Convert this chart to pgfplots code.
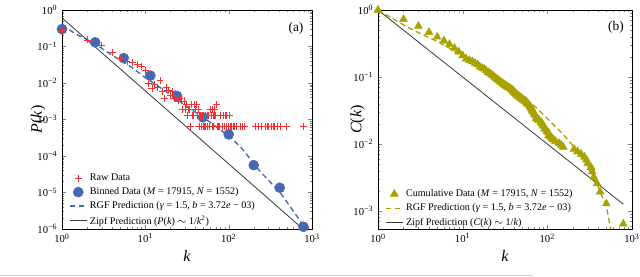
\documentclass[border=0pt]{standalone}
\usepackage{pgfplots}
\pgfplotsset{compat=1.18}
\usepackage{fontspec}
\setmainfont{Liberation Serif}
\definecolor{rawred}{RGB}{255,45,45}
\definecolor{binblue}{RGB}{70,104,178}
\definecolor{olivey}{RGB}{168,162,0}
\definecolor{zipfc}{RGB}{55,55,55}
\pgfplotsset{
  markimg/.style={legend image code/.code={\draw[##1] plot coordinates {(0.22cm,0cm)};}},
  lineimg/.style={legend image code/.code={\draw[##1] (0cm,0cm) -- (0.44cm,0cm);}},
}
\begin{document}
\begin{tikzpicture}
\useasboundingbox (0,0) rectangle (480pt,207pt);
\draw[gray!35, line width=0.6pt] (0,0.75pt) -- (400pt,0.75pt);
% ---------------- panel (a)
\begin{loglogaxis}[scale only axis, anchor=south west,
  height=164.25pt, xmin=1, xmax=1000, clip=false,
  xtick={1,10,100,1000},
  xticklabels={10\textsuperscript{0},10\textsuperscript{1},10\textsuperscript{2},10\textsuperscript{3}},
  minor xtick={2,3,4,5,6,7,8,9,20,30,40,50,60,70,80,90,200,300,400,500,600,700,800,900},
  tick align=inside, major tick length=3pt, minor tick length=1.6pt,
  axis line style={line width=0.6pt},
  tick label style={font=\fontsize{8}{9}\selectfont},
  label style={font=\fontsize{12}{13}\selectfont},
  xlabel style={at={(axis description cs:0.5,-0.123)}, anchor=center},
  legend style={draw=none, fill=none, font=\fontsize{7.6}{8.6}\selectfont, anchor=south west, row sep=-0.3pt, at={(axis description cs:0.012,-0.012)}},
  legend cell align=left,
  at={(46.5pt,35.25pt)}, width=187.5pt,
  ymin=1e-6, ymax=1,
  ytick={1e-6,1e-5,1e-4,1e-3,1e-2,1e-1,1},
  yticklabels={10\textsuperscript{−6},10\textsuperscript{−5},10\textsuperscript{−4},10\textsuperscript{−3},10\textsuperscript{−2},10\textsuperscript{−1},10\textsuperscript{0}},
  minor ytick={2e-6,3e-6,4e-6,5e-6,6e-6,7e-6,8e-6,9e-6,2e-5,3e-5,4e-5,5e-5,6e-5,7e-5,8e-5,9e-5,2e-4,3e-4,4e-4,5e-4,6e-4,7e-4,8e-4,9e-4,2e-3,3e-3,4e-3,5e-3,6e-3,7e-3,8e-3,9e-3,2e-2,3e-2,4e-2,5e-2,6e-2,7e-2,8e-2,9e-2,0.2,0.3,0.4,0.5,0.6,0.7,0.8,0.9},
  xlabel={\textit{k}}, ylabel={\textit{P}(\textit{k})},
  ylabel style={at={(axis description cs:-0.096,0.5)}, anchor=center}]
\addlegendimage{only marks, mark=+, rawred, mark size=2.6pt, mark options={line width=0.5pt}, markimg}
\addlegendentry{Raw Data}
\addlegendimage{only marks, mark=*, binblue, mark size=3.75pt, mark options={draw=binblue, fill=binblue}, markimg}
\addlegendentry{Binned Data (\textit{M} = 17915, \textit{N} = 1552)}
\addlegendimage{binblue, line width=1pt, dash pattern=on 4pt off 2.5pt, lineimg}
\addlegendentry{RGF Prediction (\textit{γ} = 1.5, \textit{b} = 3.72\textit{e} − 03)}
\addlegendimage{zipfc, line width=0.6pt, lineimg}
\addlegendentry{Zipf Prediction (\textit{P}(\textit{k}) $\sim$ 1/\textit{k}\textsuperscript{2})}
\addplot[forget plot, only marks, mark=*, mark size=3.75pt, mark options={draw=binblue, fill=binblue}] coordinates {
(1,0.30) (2.5,0.13) (5.5,0.048) (11.5,0.016) (24,0.0044) (49,0.00115) (100,0.00039) (200,0.000056) (410,0.0000135) (790,0.00000115)};
\addplot[forget plot, only marks, mark=+, mark size=2.6pt, rawred, mark options={line width=0.5pt}] table {
k P
1 0.27384
2 0.15142
3 0.11018
4 0.06830
5 0.04832
6 0.03995
7 0.03737
8 0.03286
9 0.02899
10 0.02191
11 0.009665
12 0.007088
13 0.009021
14 0.007732
15 0.011598
16 0.005799
17 0.003866
18 0.007732
19 0.006443
20 0.004510
21 0.005799
22 0.003866
23 0.005155
24 0.003866
25 0.003222
26 0.003866
27 0.003222
28 0.001933
29 0.003222
30 0.001933
31 0.002577
32 0.001289
33 0.001933
34 0.001933
35 0.000644
36 0.002577
37 0.001289
38 0.001289
39 0.002577
40 0.001933
41 0.002577
42 0.001289
43 0.001933
44 0.000644
45 0.001289
46 0.001289
47 0.000644
48 0.001289
49 0.000644
50 0.001289
51 0.000644
52 0.001289
53 0.000644
55 0.001289
56 0.000644
57 0.001289
58 0.000644
59 0.000644
60 0.001933
62 0.001289
63 0.000644
64 0.001933
65 0.001289
66 0.000644
67 0.001289
68 0.001933
70 0.001289
72 0.002577
74 0.000644
76 0.000644
78 0.000644
80 0.001289
84 0.000644
86 0.001289
88 0.000644
90 0.001289
93 0.000644
95 0.001289
99 0.000644
103 0.001289
104 0.000644
108 0.000644
113 0.000644
118 0.000644
125 0.000644
137 0.000644
146 0.000644
154 0.000644
207 0.000644
227 0.000644
250 0.000644
274 0.000644
290 0.000644
300 0.000644
329 0.000644
340 0.000644
354 0.000644
388 0.000644
420 0.000644
498 0.000644
789 0.000644
};
\addplot[forget plot, binblue, line width=1pt, dash pattern=on 4pt off 2.5pt] coordinates {
(1,0.38) (1.5,0.215) (2.25,0.135) (4,0.058) (7,0.026) (10,0.0140) (13,0.0095) (19,0.0052) (33,0.0021) (63,0.00078) (109,0.00030) (143,0.000165) (238,0.000038) (414,0.0000100) (720,0.0000017) (800,0.0000011)};
\addplot[forget plot, zipfc, line width=0.6pt] coordinates {(1,0.608) (789,0.000000977)};
\node[font=\fontsize{10}{12}\selectfont] at (rel axis cs:0.936,0.918) {(a)};
\end{loglogaxis}
% ---------------- panel (b)
\begin{loglogaxis}[scale only axis, anchor=south west,
  height=164.25pt, xmin=1, xmax=1000, clip=false,
  xtick={1,10,100,1000},
  xticklabels={10\textsuperscript{0},10\textsuperscript{1},10\textsuperscript{2},10\textsuperscript{3}},
  minor xtick={2,3,4,5,6,7,8,9,20,30,40,50,60,70,80,90,200,300,400,500,600,700,800,900},
  tick align=inside, major tick length=3pt, minor tick length=1.6pt,
  axis line style={line width=0.6pt},
  tick label style={font=\fontsize{8}{9}\selectfont},
  label style={font=\fontsize{12}{13}\selectfont},
  xlabel style={at={(axis description cs:0.5,-0.123)}, anchor=center},
  legend style={draw=none, fill=none, font=\fontsize{7.6}{8.6}\selectfont, anchor=south west, row sep=0pt, at={(axis description cs:0.012,-0.018)}},
  legend cell align=left,
  at={(283.5pt,35.25pt)}, width=190.5pt,
  ymin=5.4e-4, ymax=1,
  ytick={1e-3,1e-2,1e-1,1},
  yticklabels={10\textsuperscript{−3},10\textsuperscript{−2},10\textsuperscript{−1},10\textsuperscript{0}},
  minor ytick={6e-4,7e-4,8e-4,9e-4,2e-3,3e-3,4e-3,5e-3,6e-3,7e-3,8e-3,9e-3,2e-2,3e-2,4e-2,5e-2,6e-2,7e-2,8e-2,9e-2,0.2,0.3,0.4,0.5,0.6,0.7,0.8,0.9},
  xlabel={\textit{k}}, ylabel={\textit{C}(\textit{k})},
  ylabel style={at={(axis description cs:-0.081,0.5)}, anchor=center}]
\addlegendimage{only marks, mark=triangle*, mark size=3.4pt, mark options={draw=olivey, fill=olivey}, markimg}
\addlegendentry{Cumulative Data (\textit{M} = 17915, \textit{N} = 1552)}
\addlegendimage{olivey, line width=1pt, dash pattern=on 4pt off 2.5pt, lineimg}
\addlegendentry{RGF Prediction (\textit{γ} = 1.5, \textit{b} = 3.72\textit{e} − 03)}
\addlegendimage{zipfc, line width=0.6pt, lineimg}
\addlegendentry{Zipf Prediction (\textit{C}(\textit{k}) $\sim$ 1/\textit{k})}
\addplot[forget plot, only marks, mark=triangle*, mark size=3.4pt, mark options={draw=olivey, fill=olivey}] table {
k C
1 1.0
2 0.72616
3 0.57474
4 0.46456
5 0.39626
6 0.34794
7 0.30799
8 0.27062
9 0.23776
10 0.20876
11 0.18686
12 0.17719
13 0.17010
14 0.16108
15 0.15335
16 0.14175
17 0.13595
18 0.13209
19 0.12436
20 0.11791
21 0.11340
22 0.10760
23 0.10374
24 0.09858
25 0.09472
26 0.09149
27 0.08763
28 0.08441
29 0.08247
30 0.07925
31 0.07732
32 0.07474
33 0.07345
34 0.07152
35 0.06959
36 0.06894
37 0.06637
38 0.06508
39 0.06379
40 0.06121
41 0.05928
42 0.05670
43 0.05541
44 0.05348
45 0.05284
46 0.05155
47 0.05026
48 0.04961
49 0.04832
50 0.04768
51 0.04639
52 0.04575
53 0.04446
55 0.04381
56 0.04253
57 0.04188
58 0.04059
59 0.03995
60 0.03930
62 0.03737
63 0.03608
64 0.03544
65 0.03351
66 0.03222
67 0.03157
68 0.03028
70 0.02835
72 0.02706
74 0.02448
76 0.02384
78 0.02320
80 0.02255
84 0.02126
86 0.02062
88 0.01933
90 0.01869
93 0.01740
95 0.01675
99 0.01546
103 0.01482
104 0.01353
108 0.01289
113 0.01224
118 0.01160
125 0.01095
137 0.01031
146 0.00966
154 0.00902
207 0.00838
227 0.00773
250 0.00709
274 0.00644
290 0.00580
300 0.00515
329 0.00451
340 0.00387
354 0.00322
388 0.00258
420 0.00193
498 0.00129
789 0.000644
};
\addplot[forget plot, olivey, line width=1pt, dash pattern=on 4pt off 2.5pt] coordinates {
(1,1.0) (2,0.60) (3,0.46) (5,0.34) (7,0.27) (10,0.20) (20,0.115) (50,0.052) (76,0.034) (100,0.024) (150,0.0145) (200,0.0095) (300,0.0047) (400,0.0023) (500,0.00115) (560,0.00054)};
\addplot[forget plot, zipfc, line width=0.6pt] coordinates {(1,1.0) (790,0.001266)};
\node[font=\fontsize{10}{12}\selectfont] at (rel axis cs:0.937,0.921) {(b)};
\end{loglogaxis}
\end{tikzpicture}
\end{document}
